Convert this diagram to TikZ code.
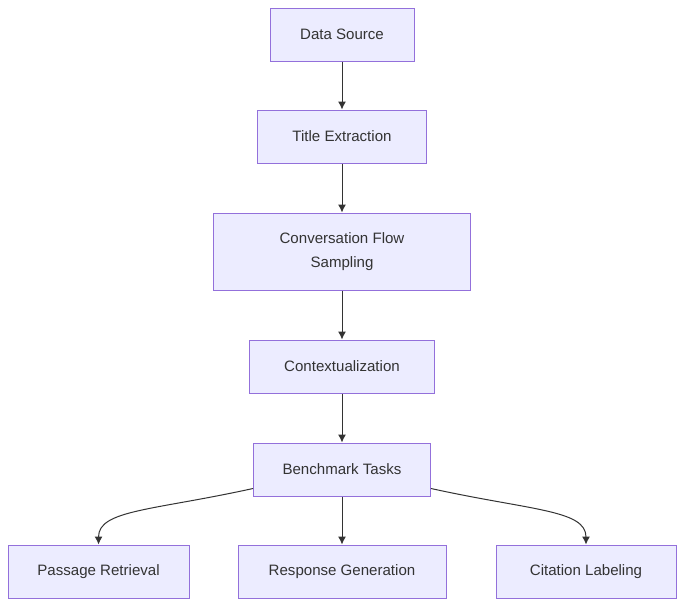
\documentclass[tikz,border=0pt]{standalone}
\usepackage{fontspec}
\setmainfont{Liberation Sans}
\usetikzlibrary{positioning,shapes,arrows.meta}
\definecolor{boxfill}{HTML}{ECECFF}
\definecolor{boxline}{HTML}{9370DB}
\definecolor{ink}{HTML}{333333}
\tikzstyle{block} = [draw=boxline, fill=boxfill, rectangle, line width=0.75pt, text=ink, font=\fontsize{11.3}{18}\selectfont, align=center, minimum height=39.75pt]
\tikzstyle{link} = [draw=ink, line width=0.75pt]

\begin{document}
\begin{tikzpicture}[->,>={Latex[length=6pt,width=6pt]},link]
		\useasboundingbox (0,0) rectangle (519pt,-460.5pt);
		\node (src) [block, minimum width=108pt] at (256.5pt,-25.875pt) {Data Source};
		\node (title) [block, below of=src, node distance=76.5pt, minimum width=126.75pt] {Title Extraction};
		\node (flow) [block, below of=title, node distance=86.25pt, minimum width=192.75pt, minimum height=57.75pt] {Conversation Flow\\Sampling};
		\node (ctx) [block, below of=flow, node distance=86.25pt, minimum width=138.75pt] {Contextualization};
		\node (bench) [block, below of=ctx, node distance=77.25pt, minimum width=132.75pt] {Benchmark Tasks};
		\node (resp) [block, below of=bench, node distance=76.5pt, minimum width=156pt] {Response Generation};
		\node (pass) [block, left of=resp, node distance=182.6pt, minimum width=135.75pt] {Passage Retrieval};
		\node (cite) [block, right of=resp, node distance=183pt, minimum width=135pt] {Citation Labeling};

		\draw (src) -- (title);
		\draw (title) -- (flow);
		\draw (flow) -- (ctx);
		\draw (ctx) -- (bench);
		\draw (bench) -- (resp);
		\draw ([yshift=6pt]bench.south west) .. controls +(-75pt,-16.5pt) and +(0,26pt) .. (pass.north);
		\draw ([yshift=6pt]bench.south east) .. controls +(75pt,-16.5pt) and +(0,26pt) .. (cite.north);
	\end{tikzpicture}
\end{document}
